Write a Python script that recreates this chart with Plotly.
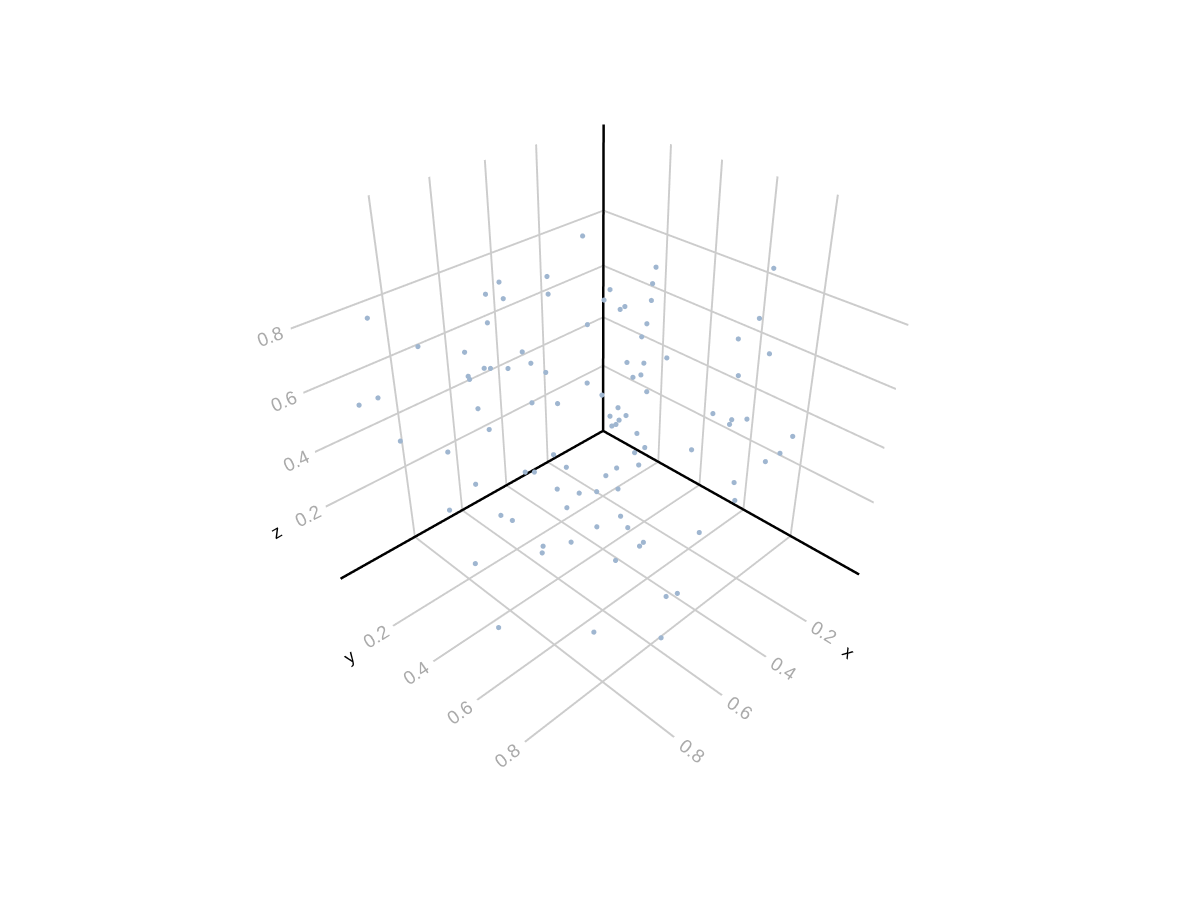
import plotly.graph_objects as go

x_vals = [.326,.320,.665,.589,.442,.586,.949,.506,.545,.785,.698,.696,.577,.569,.773,.629,.613,.823,.558,.365,
          .924,.970,.632,.732,.570,.348,.840,.928,.750,.747,.625,.608,.801,.826,.560,.740,.908,.562,.909,.794,
          .660,.872,.701,.827,.943,.758,.706,.632,.522,.688,.571,.453,.673,.573,.547,.741,.433,.429,.672,.525,
          .355,.594,.445,.320,.608,.476,.342,.601,.453,.321,.506,.388,.239,.512,.350,.162,.457,.298,.203,.456,
          .357,.200,.400,.240,.073,.137,.065,.279,.086,.318,.269,.109,.378,.207,.135,.324,.219,.222,.306,.459]
y_vals = [.242,.076,.275,.114,.009,.380,.068,.005,.486,.039,.140,.394,.286,.055,.353,.246,.030,.325,.327,.296,
          .019,-.011,.092,.467,.387,.343,.416,.114,.081,.563,.478,.273,.546,.315,.363,.652,.293,.407,.530,.431,
          .403,.647,.574,.279,.527,.723,.683,.608,.577,.754,.671,.611,.824,.827,.846,.958,.820,.494,.683,.580,
          .509,.712,.613,.466,.641,.528,.411,.627,.513,.420,.669,.508,.402,.601,.514,.437,.601,.474,.276,.537,
          .360,.229,.580,.439,.301,.775,.695,.784,.756,.823,.711,.655,.858,.786,.898,.984,.872,.604,.833,.950]
z_vals = [.932,.750,.914,.797,.695,.888,.837,.635,.822,.676,.663,.764,.637,.522,.729,.625,.502,.705,.616,.485,
          .558,.541,.422,.655,.544,.455,.598,.458,.315,.544,.397,.265,.507,.358,.223,.462,.299,.177,.415,.275,
          .082,.335,.225,.040,.030,.019,.465,.260,.047,.413,.258,.082,.357,.100,.107,.154,.246,.223,.499,.395,
          .282,.548,.442,.360,.605,.495,.393,.626,.534,.404,.678,.604,.505,.741,.637,.547,.796,.728,.668,.861,
          .783,.717,.874,.821,.773,.943,.740,.791,.658,.712,.520,.382,.618,.507,.467,.546,.409,.319,.361,.446]
tick_values = [0.2, 0.4, 0.6, 0.8]
x_range = [-0.09, 1.09]
y_range = [-0.09, 1.07]
z_range = [-0.09, 1.09]
edge = 0.004

axis = dict(showbackground=False, gridcolor="#cccccc", gridwidth=4, zeroline=False,
            showline=False, tickfont=dict(color="#aaaaaa", size=15, family="Liberation Sans"),
            tickvals=tick_values, ticks="", title=dict(text=""))
fig = go.Figure()
fig.add_trace(go.Scatter3d(x=x_vals, y=y_vals, z=z_vals, mode="markers",
                           marker=dict(size=3, color="#9fb6d0"), showlegend=False))
xl, yl, zl = x_range[0] + edge, y_range[0] + edge, z_range[0] + edge
for xs, ys, zs in [([xl, x_range[1]], [yl, yl], [zl, zl]),
                   ([xl, xl], [yl, y_range[1]], [zl, zl]),
                   ([xl, xl], [yl, yl], [zl, z_range[1]])]:
    fig.add_trace(go.Scatter3d(x=xs, y=ys, z=zs, mode="lines",
                               line=dict(color="black", width=5), showlegend=False, hoverinfo="skip"))
title_font = dict(color="black", size=18, family="Liberation Sans")
annotations = [
    dict(text="x", x=xl, y=y_range[1] - edge, z=zl, xshift=-10, yshift=-78, textangle=40),
    dict(text="y", x=x_range[1] - edge, y=yl, z=zl, xshift=8, yshift=-79, textangle=-35),
    dict(text="z", x=x_range[1] - edge, y=yl, z=zl, xshift=-65, yshift=46, textangle=-30),
]
for a in annotations:
    a.update(showarrow=False, font=title_font)
fig.update_layout(width=1200, height=900, paper_bgcolor="white", showlegend=False,
                  margin=dict(l=0, r=15, t=4, b=78),
                  scene=dict(xaxis={**axis, "range": x_range, "autorange": False},
                             yaxis={**axis, "range": y_range, "autorange": False},
                             zaxis={**axis, "range": z_range, "autorange": False},
                             aspectmode="manual", aspectratio=dict(x=0.965, y=0.942, z=0.972),
                             camera=dict(eye=dict(x=1.35, y=1.35, z=1.27)),
                             annotations=annotations))
fig.write_html("out.html")
